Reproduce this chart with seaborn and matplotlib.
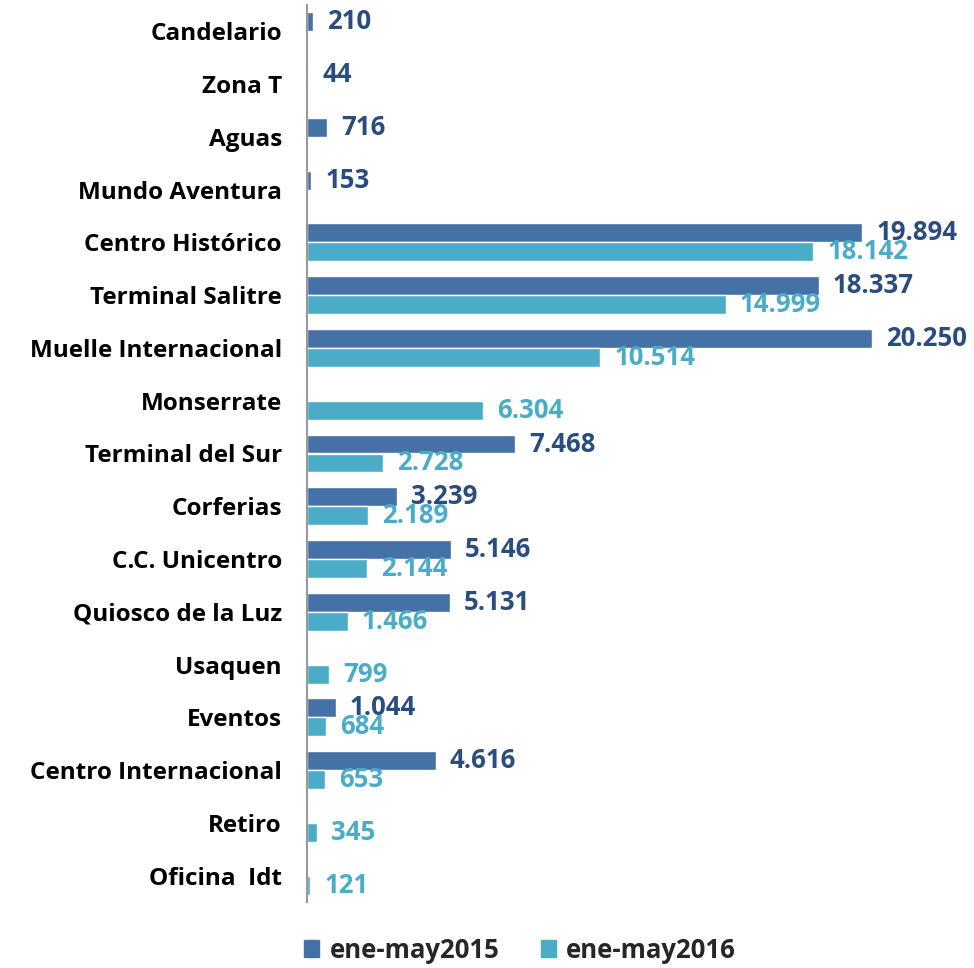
import pandas as pd
import numpy as np
import seaborn as sns
import matplotlib.pyplot as plt
from matplotlib.patches import Patch

categories = ["Candelario", "Zona T", "Aguas", "Mundo Aventura", "Centro Histórico",
              "Terminal Salitre", "Muelle Internacional", "Monserrate", "Terminal del Sur",
              "Corferias", "C.C. Unicentro", "Quiosco de la Luz", "Usaquen", "Eventos",
              "Centro Internacional", "Retiro", "Oficina  Idt"]
v2015 = [210, 44, 716, 153, 19894, 18337, 20250, np.nan, 7468,
         3239, 5146, 5131, np.nan, 1044, 4616, np.nan, np.nan]
v2016 = [np.nan, np.nan, np.nan, np.nan, 18142, 14999, 10514, 6304, 2728,
         2189, 2144, 1466, 799, 684, 653, 345, 121]
series = ["ene-may2015", "ene-may2016"]

bar_colors = ["#4471A6", "#4AACC6"]
text_colors = ["#2A4D7F", "#4AACC6"]

df = pd.DataFrame({"Punto": categories * 2,
                   "Periodo": [series[0]] * len(categories) + [series[1]] * len(categories),
                   "Visitantes": v2015 + v2016})
df = df.dropna()

sns.set_style("white")
plt.rcParams['font.family'] = ['Open Sans', 'DejaVu Sans']

fig = plt.figure(figsize=(9.74, 9.68), dpi=100)
ax = fig.add_axes([307/974, 1 - 902/968, 1 - 307/974, 897/968])

sns.barplot(data=df, y="Punto", x="Visitantes", hue="Periodo", order=categories,
            hue_order=series, palette=bar_colors, orient="h", width=0.72,
            saturation=1, legend=False, ax=ax)

def fmt(v):
    return f"{int(round(v)):,}".replace(",", ".")

for cont, col in zip(ax.containers, text_colors):
    ax.bar_label(cont, labels=[fmt(b.get_width()) for b in cont], padding=10,
                 color=col, fontsize=18.5, fontweight='bold')

ax.set_xlim(0, 23900)
ax.set_ylim(len(categories) - 0.5, -0.5)
ax.set_xlabel("")
ax.set_ylabel("")
ax.set_xticks([])
ax.tick_params(axis='y', length=0, pad=18, labelsize=17.5)
for lbl in ax.get_yticklabels():
    lbl.set_fontweight('bold')
    lbl.set_color('black')
for s in ["top", "right", "bottom"]:
    ax.spines[s].set_visible(False)
ax.spines["left"].set_color("#999999")
ax.spines["left"].set_linewidth(1.5)

handles = [Patch(color=c, label=s) for c, s in zip(bar_colors, series)]
leg = fig.legend(handles=handles, loc="center", bbox_to_anchor=(520/974, 1 - 950/968),
                 ncol=2, frameon=False, handlelength=0.6, handleheight=0.6,
                 handletextpad=0.4, columnspacing=1.6,
                 prop={'size': 18.5, 'weight': 'bold'})

fig.savefig("out.png", dpi=100)
